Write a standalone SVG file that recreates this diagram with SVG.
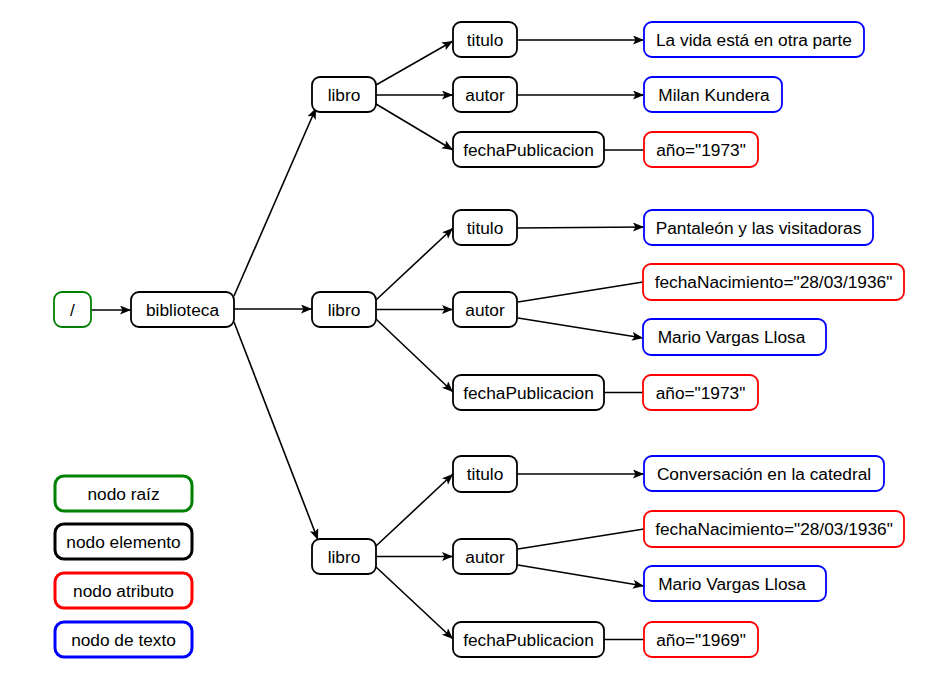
<svg xmlns="http://www.w3.org/2000/svg" width="952" height="678" viewBox="0 0 952 678">
  <style>
    .n rect { fill: #fff; stroke-width: 1.8; }
    .el rect { stroke: #000; }
    .root rect { stroke: #008000; }
    .attr rect { stroke: #ff0000; }
    .txt rect { stroke: #0000ff; }
    .lg rect { stroke-width: 3; }
    text { font-family: "Liberation Sans", Arial, sans-serif; font-size: 17.3px; fill: #000; text-anchor: middle; }
    #connectors line { stroke: #000; stroke-width: 1.6; fill: none; }
    #connectors line.arr { marker-end: url(#arrow); }
  </style>
  <defs>
    <marker id="arrow" markerUnits="userSpaceOnUse" markerWidth="12" markerHeight="10" refX="11" refY="4.5" orient="auto">
      <path d="M0,0 L11,4.5 L0,9 L2.5,4.5 Z" fill="#000"/>
    </marker>
  </defs>

  <!-- connectors -->
  <g id="connectors">
    <line class="arr" x1="91" y1="310" x2="131" y2="310"/>
    <line class="arr" x1="234" y1="296" x2="316" y2="108"/>
    <line class="arr" x1="234" y1="309" x2="312" y2="309"/>
    <line class="arr" x1="234" y1="322" x2="318" y2="540"/>
    <!-- libro 1 -->
    <line class="arr" x1="376" y1="85" x2="453" y2="41"/>
    <line class="arr" x1="376" y1="95" x2="453" y2="95"/>
    <line class="arr" x1="376" y1="104" x2="453" y2="150"/>
    <line class="arr" x1="517" y1="40" x2="644" y2="40"/>
    <line class="arr" x1="517" y1="95" x2="644" y2="95"/>
    <line x1="604" y1="150" x2="644" y2="150"/>
    <!-- libro 2 -->
    <line class="arr" x1="376" y1="300" x2="453" y2="228"/>
    <line class="arr" x1="376" y1="309.5" x2="453" y2="309.5"/>
    <line class="arr" x1="376" y1="319" x2="453" y2="392"/>
    <line class="arr" x1="517" y1="228" x2="644" y2="227"/>
    <line x1="518" y1="302" x2="643" y2="282"/>
    <line class="arr" x1="518" y1="318" x2="643" y2="338"/>
    <line x1="604" y1="392.5" x2="643" y2="392.5"/>
    <!-- libro 3 -->
    <line class="arr" x1="376" y1="546" x2="453" y2="474"/>
    <line class="arr" x1="376" y1="556.5" x2="453" y2="556.5"/>
    <line class="arr" x1="376" y1="567" x2="453" y2="639"/>
    <line class="arr" x1="517" y1="474" x2="644" y2="474"/>
    <line x1="518" y1="549" x2="644" y2="529"/>
    <line class="arr" x1="518" y1="565" x2="644" y2="586"/>
    <line x1="604" y1="639.5" x2="644" y2="639.5"/>
  </g>

  <!-- tree nodes -->
  <g id="root" class="n root"><rect x="54" y="292" width="37" height="35" rx="8"/><text x="72.5" y="316">/</text></g>
  <g id="biblioteca" class="n el"><rect x="131" y="292" width="103" height="35" rx="8"/><text x="182.5" y="316">biblioteca</text></g>

  <g id="libro1" class="n el"><rect x="312" y="77" width="64" height="35" rx="8"/><text x="344" y="101">libro</text></g>
  <g id="titulo1" class="n el"><rect x="453" y="22" width="64" height="35" rx="8"/><text x="485" y="46">titulo</text></g>
  <g id="autor1" class="n el"><rect x="453" y="77" width="64" height="35" rx="8"/><text x="485" y="101">autor</text></g>
  <g id="fecha1" class="n el"><rect x="453" y="132" width="151" height="35" rx="8"/><text x="528.5" y="156">fechaPublicacion</text></g>
  <g id="texto1" class="n txt"><rect x="644" y="22" width="220" height="35" rx="8"/><text x="754" y="46">La vida está en otra parte</text></g>
  <g id="texto2" class="n txt"><rect x="644" y="77" width="138" height="35" rx="8"/><text x="714" y="101">Milan Kundera</text></g>
  <g id="anio1" class="n attr"><rect x="644" y="132" width="114" height="35" rx="8"/><text x="701" y="156">año="1973"</text></g>

  <g id="libro2" class="n el"><rect x="312" y="292" width="64" height="35" rx="8"/><text x="344" y="316">libro</text></g>
  <g id="titulo2" class="n el"><rect x="453" y="210" width="64" height="35" rx="8"/><text x="485" y="234">titulo</text></g>
  <g id="autor2" class="n el"><rect x="453" y="292" width="64" height="35" rx="8"/><text x="485" y="316">autor</text></g>
  <g id="fecha2" class="n el"><rect x="453" y="375" width="151" height="35" rx="8"/><text x="528.5" y="399">fechaPublicacion</text></g>
  <g id="texto3" class="n txt"><rect x="644" y="210" width="229" height="35" rx="8"/><text x="758.5" y="234">Pantaleón y las visitadoras</text></g>
  <g id="nac1" class="n attr"><rect x="643" y="264" width="261" height="36" rx="8"/><text x="773.5" y="288">fechaNacimiento="28/03/1936"</text></g>
  <g id="texto4" class="n txt"><rect x="643" y="319" width="183" height="36" rx="8"/><text x="731.5" y="343">Mario Vargas Llosa</text></g>
  <g id="anio2" class="n attr"><rect x="643" y="375" width="115" height="35" rx="8"/><text x="700.5" y="399">año="1973"</text></g>

  <g id="libro3" class="n el"><rect x="312" y="539" width="64" height="35" rx="8"/><text x="344" y="563">libro</text></g>
  <g id="titulo3" class="n el"><rect x="453" y="456" width="64" height="36" rx="8"/><text x="485" y="480">titulo</text></g>
  <g id="autor3" class="n el"><rect x="453" y="539" width="64" height="35" rx="8"/><text x="485" y="563">autor</text></g>
  <g id="fecha3" class="n el"><rect x="453" y="622" width="151" height="35" rx="8"/><text x="528.5" y="646">fechaPublicacion</text></g>
  <g id="texto5" class="n txt"><rect x="644" y="456" width="240" height="35" rx="8"/><text x="764" y="480">Conversación en la catedral</text></g>
  <g id="nac2" class="n attr"><rect x="644" y="511" width="260" height="36" rx="8"/><text x="774" y="535">fechaNacimiento="28/03/1936"</text></g>
  <g id="texto6" class="n txt"><rect x="644" y="566" width="182" height="35" rx="8"/><text x="732" y="590">Mario Vargas Llosa</text></g>
  <g id="anio3" class="n attr"><rect x="644" y="622" width="114" height="35" rx="8"/><text x="701" y="646">año="1969"</text></g>

  <!-- legend -->
  <g id="legend-raiz" class="n root lg"><rect x="55" y="476" width="137" height="35" rx="9"/><text x="123.5" y="500">nodo raíz</text></g>
  <g id="legend-elemento" class="n el lg"><rect x="55" y="524" width="137" height="35" rx="9"/><text x="123.5" y="548">nodo elemento</text></g>
  <g id="legend-atributo" class="n attr lg"><rect x="55" y="573" width="137" height="35" rx="9"/><text x="123.5" y="597">nodo atributo</text></g>
  <g id="legend-texto" class="n txt lg"><rect x="55" y="622" width="137" height="35" rx="9"/><text x="123.5" y="646">nodo de texto</text></g>
</svg>
